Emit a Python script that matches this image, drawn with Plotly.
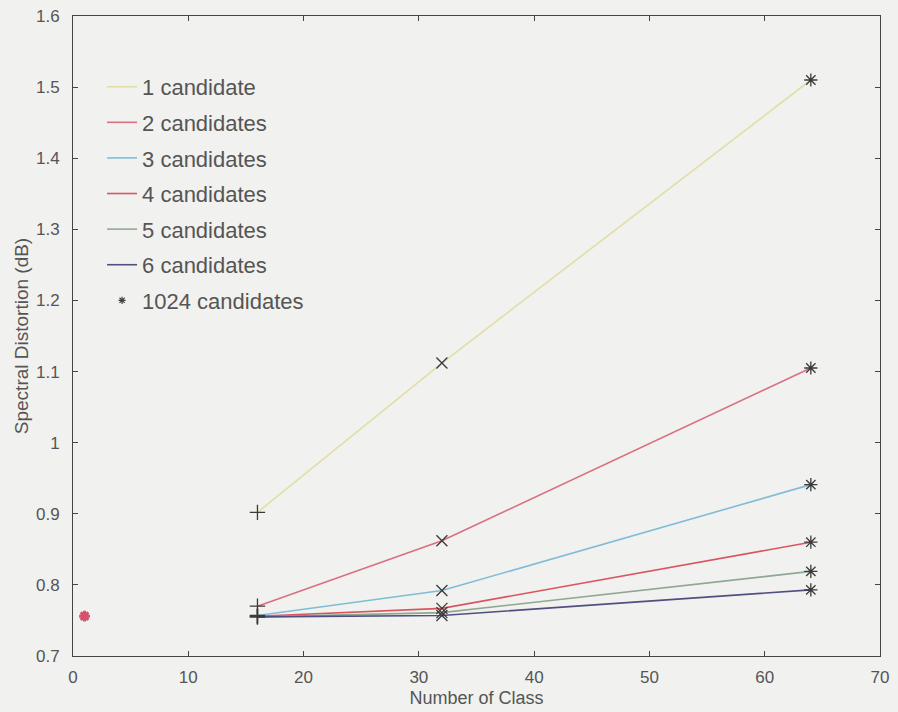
import plotly.graph_objects as go

classes = [16, 32, 64]
series_names = ["1 candidate", "2 candidates", "3 candidates", "4 candidates", "5 candidates", "6 candidates"]
sd_1 = [0.902, 1.112, 1.510]
sd_2 = [0.770, 0.862, 1.105]
sd_3 = [0.757, 0.792, 0.941]
sd_4 = [0.756, 0.767, 0.860]
sd_5 = [0.755, 0.761, 0.819]
sd_6 = [0.755, 0.757, 0.793]
series_values = [sd_1, sd_2, sd_3, sd_4, sd_5, sd_6]
colors = ["#e2dea6", "#d9707f", "#80bcd8", "#d95560", "#8fa892", "#4f4f80"]
point_symbols = ["cross-thin-open", "x-thin-open", "asterisk-open"]

ref_x = [1]
ref_y = [0.756]
ref_name = "1024 candidates"

x_ticks = [0, 10, 20, 30, 40, 50, 60, 70]
y_ticks = [0.7, 0.8, 0.9, 1.0, 1.1, 1.2, 1.3, 1.4, 1.5, 1.6]

fig = go.Figure()
for i, (name, vals, col) in enumerate(zip(series_names, series_values, colors)):
    fig.add_trace(go.Scatter(x=classes, y=vals, mode="lines", name=name,
                             line=dict(color=col, width=1.6),
                             legendgroup=f"g{i}"))
for vals in series_values:
    fig.add_trace(go.Scatter(x=classes, y=vals, mode="markers", showlegend=False,
                             marker=dict(symbol=point_symbols, size=11, color="#3a3a3a",
                                         line=dict(width=1.3, color="#3a3a3a")),
                             hoverinfo="skip"))
fig.add_trace(go.Scatter(x=ref_x, y=ref_y, mode="markers", showlegend=False,
                         marker=dict(symbol="asterisk-open", size=9, color="#d8506a",
                                     line=dict(width=3, color="#d8506a"))))
fig.add_trace(go.Scatter(x=[None], y=[None], mode="markers", name=ref_name,
                         legendgroup="g6",
                         marker=dict(symbol="asterisk-open", size=6, color="#444",
                                     line=dict(width=1.2, color="#444"))))

font_fam = "Liberation Sans, Arial, sans-serif"
axis_common = dict(showline=True, linecolor="#444", linewidth=1, mirror="allticks",
                   ticks="inside", ticklen=5, tickcolor="#444", showgrid=False,
                   zeroline=False, automargin=False,
                   tickfont=dict(family=font_fam, size=17, color="#555"))
fig.update_layout(
    width=898, height=712,
    margin=dict(l=73, r=18, t=16, b=56),
    paper_bgcolor="#f1f1ef", plot_bgcolor="#f1f1ef",
    font=dict(family=font_fam, color="#555"),
    xaxis=dict(range=[0, 70], tickvals=x_ticks, ticklabelstandoff=6,
               title=dict(text="Number of Class", standoff=4,
               font=dict(size=18, color="#555")), **axis_common),
    yaxis=dict(range=[0.7, 1.6], tickvals=y_ticks, ticklabelstandoff=9,
               title=dict(text="Spectral Distortion (dB)", standoff=2,
               font=dict(size=19, color="#555")), **axis_common),
    legend=dict(x=0.036, y=0.922, xanchor="left", yanchor="top", bgcolor="rgba(0,0,0,0)",
                font=dict(size=22, color="#555"), itemwidth=30, tracegroupgap=4),
    showlegend=True,
)
fig.write_html("out.html")
